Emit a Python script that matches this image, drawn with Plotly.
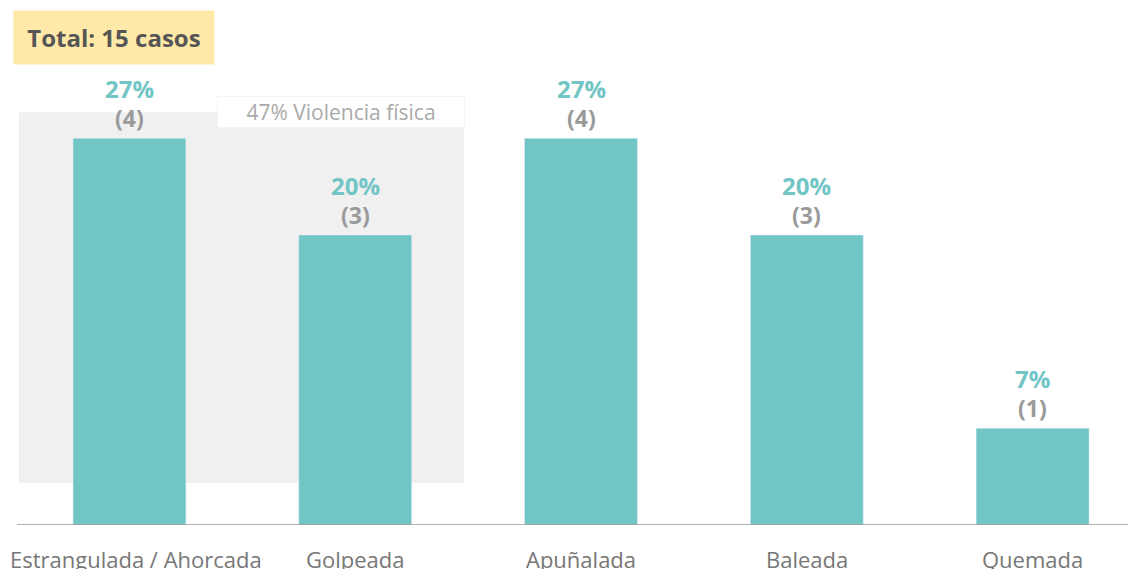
import plotly.graph_objects as go

categories = ["Estrangulada / Ahorcada", "Golpeada", "Apuñalada", "Baleada", "Quemada"]
cases = [4, 3, 4, 3, 1]
total_cases = 15
group_label = "47% Violencia física"
title_text = "Total: 15 casos"

TEAL = "#72C5C5"
GRAY_TXT = "#9A9A9A"
AXIS_TXT = "#777777"
FONT = "Open Sans"

xs = list(range(len(categories)))

fig = go.Figure()
fig.add_trace(go.Bar(x=xs, y=cases, marker_color=TEAL, width=0.5,
                     hoverinfo="skip", showlegend=False))

annotations = []
for x, c, cat in zip(xs, cases, categories):
    pct = round(c / total_cases * 100)
    annotations.append(dict(x=x, y=c, xref="x", yref="y", text=f"<b>{pct}%</b>",
                            showarrow=False, yanchor="middle", yshift=50,
                            font=dict(family=FONT, size=24, color=TEAL)))
    annotations.append(dict(x=x, y=c, xref="x", yref="y", text=f"<b>({c})</b>",
                            showarrow=False, yanchor="middle", yshift=20,
                            font=dict(family=FONT, size=23, color=GRAY_TXT)))
    if x == 0:
        annotations.append(dict(x=-0.48, y=0, xref="x", yref="y", text=cat,
                                showarrow=False, xanchor="left", yanchor="top",
                                xshift=-13, yshift=-17,
                                font=dict(family=FONT, size=22, color=AXIS_TXT)))
    else:
        annotations.append(dict(x=x, y=0, xref="x", yref="y", text=cat,
                                showarrow=False, xanchor="center", yanchor="top",
                                yshift=-17,
                                font=dict(family=FONT, size=22, color=AXIS_TXT)))

# group label
annotations.append(dict(x=0.935, y=4.27, xref="x", yref="y", text=group_label,
                        showarrow=False, xanchor="center", yanchor="middle",
                        bgcolor="white", bordercolor="#F3F3F3", borderwidth=1,
                        width=244, borderpad=1,
                        font=dict(family=FONT, size=21, color="#AAAAAA")))
# total box
annotations.append(dict(x=0, y=1, xref="paper", yref="paper", text=f"<b>{title_text}</b>",
                        showarrow=False, xanchor="left", yanchor="top",
                        xshift=-4, yshift=51, bgcolor="#FFE9A8", width=180,
                        borderpad=10, align="center",
                        font=dict(family=FONT, size=24, color="#555555")))

fig.update_layout(
    width=1128, height=561,
    margin=dict(l=9, r=0, t=53, b=44),
    paper_bgcolor="white", plot_bgcolor="white",
    annotations=annotations,
    shapes=[dict(type="rect", xref="x", yref="y", x0=-0.489, x1=1.482, y0=0.434, y1=4.27,
                 fillcolor="#F0F0F0", line=dict(width=0), layer="below"),
            dict(type="line", xref="paper", yref="y", x0=0, x1=1.02, y0=0, y1=0,
                 line=dict(color="#999999", width=1.5), layer="above")],
    xaxis=dict(range=[-0.498, 4.458], showticklabels=False, showgrid=False,
               zeroline=False, showline=False, fixedrange=True),
    yaxis=dict(range=[0, 4.8], showticklabels=False, showgrid=False,
               zeroline=False, showline=False, fixedrange=True),
    bargap=0.5,
)

fig.write_html("out.html")
